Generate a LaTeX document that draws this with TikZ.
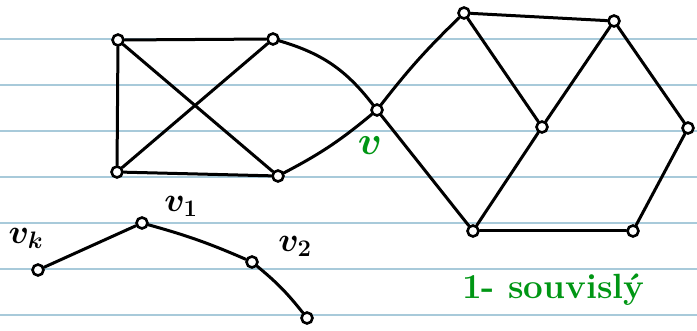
\RequirePackage{fix-cm}
\documentclass[tikz,border=0pt]{standalone}
\usepackage{fontspec}
\begin{document}
\begin{tikzpicture}[x=1pt,y=-1pt,
  vtx/.style={circle,draw=black,fill=white,line width=2.6pt,inner sep=0pt,minimum size=11pt},
  edge/.style={line width=3pt,black,line cap=round,line join=round},
  rule/.style={line width=1.4pt,color=ruleblue},
  lbl/.style={font=\fontsize{34}{34}\selectfont\boldmath,inner sep=0pt},
  glbl/.style={font=\fontsize{40}{40}\selectfont\boldmath,inner sep=0pt,text=handgreen}]
\definecolor{ruleblue}{RGB}{168,202,218}
\definecolor{handgreen}{RGB}{0,150,20}
\useasboundingbox (0,0) rectangle (697,331);
\fill[white] (0,0) rectangle (697,331);
% ruled lines
\foreach \yy in {39,85,131,177,223,269,315}
  \draw[rule] (0,\yy) -- (697,\yy);
% vertices
\node[vtx] (A) at (118,40) {};
\node[vtx] (B) at (273,39) {};
\node[vtx] (C) at (117,172) {};
\node[vtx] (D) at (278,176) {};
\node[vtx] (V) at (377,110) {};
\node[vtx] (E) at (464,13) {};
\node[vtx] (F) at (614,21) {};
\node[vtx] (G) at (542,127) {};
\node[vtx] (H) at (688,128) {};
\node[vtx] (I) at (473,231) {};
\node[vtx] (J) at (633,231) {};
\node[vtx] (K) at (38,270) {};
\node[vtx] (P1) at (142,223) {};
\node[vtx] (P2) at (252,262) {};
\node[vtx] (P3) at (307,318) {};
% edges
\draw[edge] (A) -- (B);
\draw[edge] (A) -- (C);
\draw[edge] (A) -- (D);
\draw[edge] (B) -- (C);
\draw[edge] (C) -- (D);
\draw[edge] (B) to[bend left=18] (V);
\draw[edge] (D) to[bend right=6] (V);
\draw[edge] (V) to[bend left=4] (E);
\draw[edge] (V) -- (I);
\draw[edge] (E) -- (F);
\draw[edge] (E) -- (G);
\draw[edge] (F) -- (G);
\draw[edge] (F) -- (H);
\draw[edge] (G) -- (I);
\draw[edge] (I) -- (J);
\draw[edge] (J) -- (H);
\draw[edge] (K) -- (P1);
\draw[edge] (P1) to[bend left=4] (P2);
\draw[edge] (P2) to[bend left=6] (P3);
% labels
\node[lbl] (lk) at (26,238) {$v_k$};
\node[lbl] (l1) at (181,206) {$v_1$};
\node[lbl] (l2) at (295,246) {$v_2$};
\node[glbl] (lv) at (370,146) {$v$};
\node[anchor=west,inner sep=0pt,text=handgreen,font=\fontsize{35}{35}\selectfont\bfseries] (txt) at (462,290) {1- souvislý};
\end{tikzpicture}
\end{document}
